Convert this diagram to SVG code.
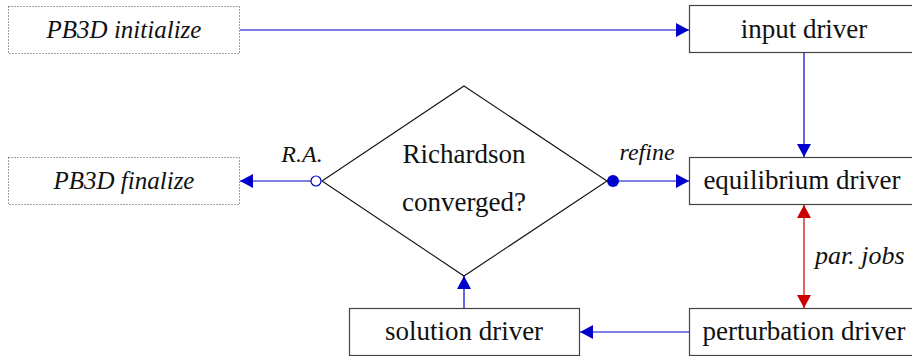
<svg xmlns="http://www.w3.org/2000/svg" width="912" height="356" viewBox="0 0 912 356">
<defs>
<marker id="ab" viewBox="0 0 13 14" refX="13" refY="7" markerWidth="13" markerHeight="14" markerUnits="userSpaceOnUse" orient="auto-start-reverse">
<path d="M0,0 L13,7 L0,14 Z" fill="#0000cc"/>
</marker>
<marker id="ar" viewBox="0 0 13 14" refX="13" refY="7" markerWidth="13" markerHeight="14" markerUnits="userSpaceOnUse" orient="auto-start-reverse">
<path d="M0,0 L13,7 L0,14 Z" fill="#cc0000"/>
</marker>
<style>
.box{fill:#fff;stroke:#444;stroke-width:1.2}
.dot{fill:#fff;stroke:#444;stroke-width:1;stroke-dasharray:1 2}
text{font-family:'Liberation Serif','Times New Roman',serif;fill:#111;text-anchor:middle}
.t{font-size:27px}
.i{font-size:25px;font-style:italic}
.b{fill:none;stroke:#0000cc;stroke-width:1.2}
.r{fill:none;stroke:#cc0000;stroke-width:1.2}
</style>
</defs>
<g id="init"><rect class="dot" x="8.5" y="6.5" width="231" height="47"/><text class="i" x="124" y="38">PB3D initialize</text></g>
<g id="input"><rect class="box" x="689.5" y="5.5" width="232" height="47"/><text class="t" x="804" y="38">input driver</text></g>
<g id="finalize"><rect class="dot" x="8.5" y="157.5" width="231" height="47"/><text class="i" x="124" y="189">PB3D finalize</text></g>
<g id="equilibrium"><rect class="box" x="689.5" y="157.5" width="232" height="47"/><text class="t" x="802" y="189">equilibrium driver</text></g>
<g id="decision"><path d="M464,86 L607,181 L464,276 L322,181 Z" fill="#fff" stroke="#111" stroke-width="1.1"/><text class="t" x="464" y="163">Richardson</text><text class="t" x="464" y="211">converged?</text></g>
<g id="solution"><rect class="box" x="349.5" y="308.5" width="230" height="47"/><text class="t" x="464" y="340">solution driver</text></g>
<g id="perturbation"><rect class="box" x="689.5" y="308.5" width="232" height="47"/><text class="t" x="804" y="340">perturbation driver</text></g>
<g id="connectors">
<line class="b" x1="240" y1="30" x2="689" y2="30" marker-end="url(#ab)"/>
<line class="b" x1="804" y1="53" x2="804" y2="157" marker-end="url(#ab)"/>
<line class="b" x1="619" y1="181" x2="689" y2="181" marker-end="url(#ab)"/>
<circle cx="613" cy="181" r="6" fill="#0000cc"/>
<line class="b" x1="311" y1="181" x2="240" y2="181" marker-end="url(#ab)"/>
<circle cx="316" cy="181" r="5" fill="#fff" stroke="#0000cc" stroke-width="1.2"/>
<line class="r" x1="804" y1="205" x2="804" y2="308" marker-start="url(#ar)" marker-end="url(#ar)"/>
<line class="b" x1="689" y1="332" x2="580" y2="332" marker-end="url(#ab)"/>
<line class="b" x1="464" y1="308" x2="464" y2="276" marker-end="url(#ab)"/>
<text class="i" x="302" y="162" style="font-size:24px">R.A.</text>
<text class="i" x="647" y="160" style="font-size:24px">refine</text>
<text class="i" x="815" y="264" style="text-anchor:start;font-size:26px">par. jobs</text>
</g>
</svg>
